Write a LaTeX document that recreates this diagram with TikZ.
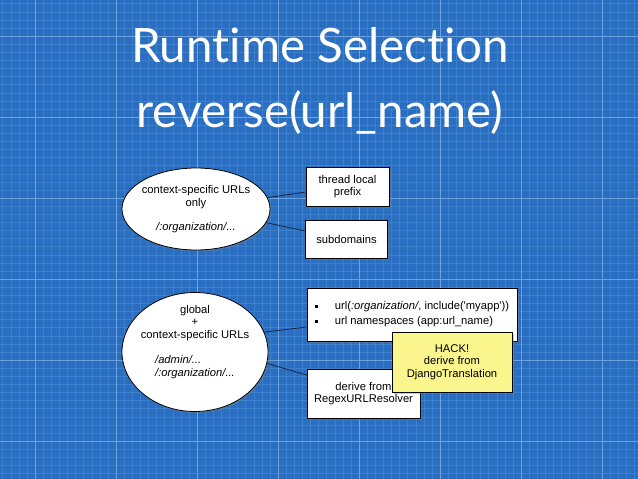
\documentclass[tikz,border=0pt]{standalone}
\usepackage{fontspec}
\setmainfont{Liberation Sans}
\newfontfamily\titlefont[Ligatures={NoCommon,NoContextual}]{Lato}
\usetikzlibrary{shapes.geometric,shadows}
\definecolor{bpblue}{RGB}{41,110,193}
\definecolor{bpminor}{RGB}{60,127,204}
\definecolor{bpmajor}{RGB}{110,162,222}
\definecolor{hackyellow}{RGB}{250,245,140}
\definecolor{linkdark}{RGB}{20,30,55}
\newcommand{\bulletsq}{\rule[1.5pt]{3pt}{3pt}}
\tikzset{
	box/.style={draw=black, fill=white, line width=0.8pt, align=center, inner sep=2pt,
		drop shadow={opacity=0.4, shadow xshift=1.5pt, shadow yshift=-1.5pt},
		font=\fontsize{11.2}{12.5}\selectfont},
	blob/.style={box, ellipse, inner xsep=-4pt, inner ysep=-12pt},
	title/.style={text=white, font=\titlefont\fontsize{47.5}{58}\selectfont},
	link/.style={draw=linkdark, line width=0.7pt},
}
\begin{document}
\begin{tikzpicture}[x=1pt,y=-1pt]
\useasboundingbox (0,0) rectangle (638,479);
% Blueprint background
\fill[bpblue] (0,0) rectangle (638,479);
\foreach \i in {0,...,78}
	\draw[bpminor, line width=0.3pt] ({2.6+8.1*\i},0) -- ({2.6+8.1*\i},479);
\foreach \i in {0,...,58}
	\draw[bpminor, line width=0.3pt] (0,{3.6+8.1*\i}) -- (638,{3.6+8.1*\i});
\foreach \i in {0,...,7}
	\draw[bpmajor, line width=0.8pt] ({35+81*\i},0) -- ({35+81*\i},479);
\foreach \i in {0,...,5}
	\draw[bpmajor, line width=0.8pt] (0,{36+81*\i}) -- (638,{36+81*\i});
% Title
\node[title, anchor=base] (title1) at (320,62) {Runtime Selection};
\node[title, anchor=base] (title2) at (320,127) {reverse(url\_name)};
% Context-specific only
\node[blob, minimum width=148pt, minimum height=82pt] (ctx) at (196,209)
	{context-specific URLs\\only\\[11.5pt]\textit{/:organization/...}};
\node[box, minimum width=83pt, minimum height=39pt] (prefix) at (347.5,186.5) {thread local\\prefix};
\node[box, minimum width=82pt, minimum height=38pt] (subdom) at (346.5,239) {subdomains};
\draw[link] (ctx.9) -- ([yshift=-5.5pt]prefix.west);
\draw[link] (ctx.-11) -- ([yshift=8pt]subdom.west);
% Global + context-specific
\node[blob, minimum width=146pt, minimum height=119pt] (glob) at (195,352)
	{global\\+\\context-specific URLs\\[13pt]
	\rlap{\textit{/admin/...}}\phantom{\textit{/:organization/...}}\\
	\textit{/:organization/...}\\[10pt]\mbox{}};
\node[box, minimum width=210pt, minimum height=53pt] (urls) at (412,314.5)
	{\begin{tabular}{@{}l@{\hspace{17pt}}l@{}}
	\bulletsq & url(\textit{:organization/}, include(\textquotesingle myapp\textquotesingle))\\[2.5pt]
	\bulletsq & url namespaces (app:url\_name)
	\end{tabular}};
\node[box, minimum width=113pt, minimum height=49pt] (resolver) at (363.5,393.5) {derive from\\RegexURLResolver};
\node[box, fill=hackyellow, minimum width=120pt, minimum height=60pt] (hack) at (452,362)
	{HACK!\\derive from\\DjangoTranslation};
\draw[link] (glob.16) -- ([yshift=-12.5pt]urls.west);
\draw[link] (glob.-9) -- ([yshift=18.5pt]resolver.west);
\end{tikzpicture}
\end{document}
